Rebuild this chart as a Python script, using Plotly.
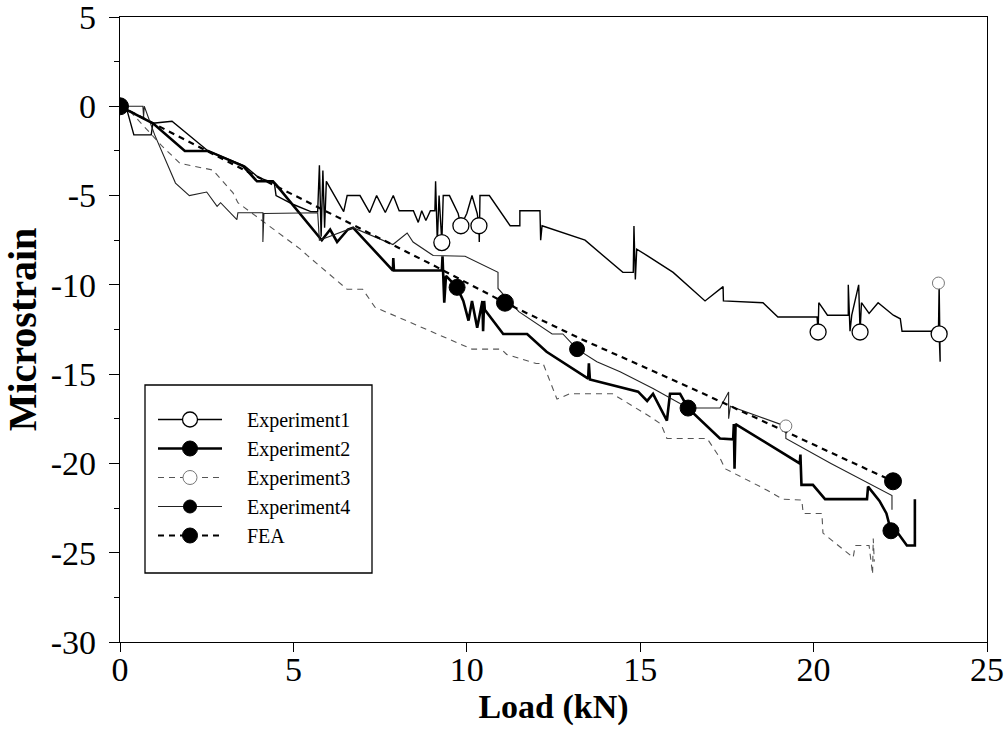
import plotly.graph_objects as go

# ---------------- data ----------------
exp1_x = [0, 0.2, 0.4, 0.9, 0.95, 1.5, 2.54, 3.6, 4.0, 4.45, 4.5, 5.0, 5.5, 5.7, 5.75, 5.8, 5.85, 5.9, 5.95,
          6.45, 6.55, 6.92, 7.2, 7.4, 7.65, 7.88, 8.05, 8.46, 8.6, 8.7, 8.82, 8.95, 9.08, 9.1, 9.15, 9.2, 9.28,
          9.32, 9.5, 9.75, 9.83, 10.0, 10.15, 10.3, 10.35, 10.36, 10.38, 10.65, 11.25, 11.53, 11.53, 12.11,
          12.13, 12.17, 13.41, 14.5, 14.8, 14.82, 14.86, 14.9, 15.2, 15.95, 16.87, 17.39, 17.4, 18.54, 18.97,
          20.1, 20.13, 20.15, 20.4, 21.0, 21.0, 21.05, 21.1, 21.3, 21.34, 21.38, 21.6, 21.86, 22.3, 22.5,
          22.55, 23.6, 23.62, 23.65, 23.62]
exp1_y = [0, -0.2, -1.6, -1.6, -0.95, -0.84, -2.5, -3.35, -4.0, -4.3, -5.0, -5.5, -5.9, -5.9, -3.3, -7.3, -3.6,
          -6.8, -4.2, -5.9, -5.0, -5.0, -5.95, -5.0, -5.95, -5.0, -5.85, -5.85, -6.5, -5.85, -6.4, -5.85, -5.85,
          -4.2, -7.6, -5.0, -7.63, -5.0, -5.0, -6.0, -6.69, -6.0, -5.0, -6.0, -6.69, -7.6, -5.0, -5.0, -6.69,
          -6.69, -5.85, -5.85, -7.5, -6.69, -7.5, -9.3, -9.3, -6.7, -9.7, -8.0, -8.36, -9.3, -10.9, -10.1,
          -10.9, -11.0, -11.8, -11.8, -12.64, -11.0, -11.7, -11.7, -10.0, -12.6, -11.7, -10.0, -12.64, -11.0,
          -11.6, -11.0, -11.7, -11.9, -12.6, -12.6, -10.0, -14.3, -12.75]
exp1_mx = [9.28, 9.83, 10.35, 20.13, 21.34, 23.62]
exp1_my = [-7.63, -6.69, -6.69, -12.64, -12.64, -12.75]

exp2_x = [0, 0.95, 1.87, 2.54, 3.55, 3.95, 4.41, 4.53, 5.82, 6.06, 6.26, 6.57, 6.72, 7.87, 7.88, 7.9, 9.28,
          9.3, 9.35, 9.4, 9.72, 9.9, 10.05, 10.15, 10.3, 10.45, 10.47, 10.5, 10.52, 11.05, 11.74, 12.3, 13.5,
          13.52, 13.55, 14.94, 15.2, 15.37, 15.77, 15.86, 16.15, 16.38, 17.3, 17.68, 17.7, 17.72, 17.75,
          19.6, 19.62, 19.65, 19.98, 20.33, 21.54, 21.57, 21.9, 22.1, 22.23, 22.43, 22.69, 22.92, 22.92]
exp2_y = [0, -0.95, -2.5, -2.5, -3.35, -4.2, -4.2, -4.46, -7.5, -6.9, -7.6, -6.9, -6.8, -9.2, -8.5, -9.2,
          -9.2, -8.4, -11.0, -9.5, -10.14, -10.9, -12.0, -10.9, -12.4, -10.9, -12.6, -10.9, -11.4, -12.75,
          -12.75, -13.75, -15.25, -14.4, -15.3, -15.98, -16.5, -16.1, -17.6, -16.1, -16.1, -16.9, -18.6,
          -18.65, -17.8, -20.3, -17.8, -20.0, -19.5, -21.2, -21.2, -22.0, -22.0, -21.3, -22.1, -22.8,
          -23.77, -23.9, -24.6, -24.6, -22.0]
exp2_mx = [9.72, 16.38, 22.23]
exp2_my = [-10.14, -16.9, -23.77]

exp3_x = [0, 0.3, 1.2, 1.73, 2.68, 3.26, 3.4, 4.67, 5.2, 5.4, 6.55, 7.0, 7.35, 10.15, 11.0, 11.15, 12.0,
          12.2, 12.6, 12.97, 14.2, 15.3, 15.6, 15.77, 16.93, 17.3, 17.45, 18.66, 19.1, 19.66, 19.7, 20.24,
          20.27, 21.14, 21.2, 21.6, 21.7, 21.72, 21.75]
exp3_y = [0, -0.3, -2.2, -3.2, -3.57, -4.85, -5.4, -7.24, -8.0, -8.35, -10.25, -10.25, -11.25, -13.6,
          -13.6, -13.9, -14.4, -14.4, -16.4, -16.1, -16.1, -17.4, -17.8, -18.6, -18.6, -19.7, -20.3, -21.5,
          -22.0, -22.05, -22.8, -22.8, -23.9, -25.27, -24.6, -24.6, -26.2, -24.2, -25.5]
exp3_mx = [19.2, 23.6]
exp3_my = [-17.9, -9.9]

exp4_x = [0, 0.66, 0.68, 0.7, 1.0, 1.6, 2.0, 2.5, 2.8, 2.9, 3.37, 3.4, 4.12, 4.12, 4.15, 5.7, 5.75, 6.72,
          7.87, 8.28, 8.45, 9.03, 9.95, 10.9, 10.9, 11.5, 12.46, 12.77, 13.18, 13.75, 14.42, 15.37, 16.38,
          17.3, 17.55, 17.55, 17.6, 19.03, 19.2, 19.2, 20.5, 21.5, 22.26, 22.26]
exp4_y = [0, 0, -0.6, 0, -1.6, -4.3, -5.0, -4.8, -5.6, -5.4, -6.35, -5.96, -5.96, -7.6, -6.0, -5.96, -7.5,
          -6.8, -7.74, -7.1, -7.6, -8.36, -8.4, -9.3, -10.2, -11.5, -12.75, -12.75, -13.6, -14.3, -14.87,
          -15.8, -16.9, -16.9, -16.0, -17.5, -16.8, -17.8, -17.8, -18.6, -20.0, -21.0, -21.8, -22.6]
exp4_mx = [13.18]
exp4_my = [-13.6]

fea_x = [0, 3.75, 9.03, 11.1, 13.26, 16.72, 22.29]
fea_y = [0, -3.74, -8.9, -11.0, -13.0, -16.0, -21.0]
fea_mx = [0, 11.1, 22.29]
fea_my = [0, -11.0, -21.0]

x_ticks = [0, 5, 10, 15, 20, 25]
y_ticks = [5, 0, -5, -10, -15, -20, -25, -30]

# ---------------- styles ----------------
series = [
    dict(name="Experiment1", x=exp1_x, y=exp1_y, mx=exp1_mx, my=exp1_my,
         line=dict(color="black", width=1.4),
         marker=dict(symbol="circle", color="white", size=16, line=dict(color="black", width=1.3)),
         lsize=15),
    dict(name="Experiment2", x=exp2_x, y=exp2_y, mx=exp2_mx, my=exp2_my,
         line=dict(color="black", width=2.6),
         marker=dict(symbol="circle", color="black", size=16, line=dict(color="black", width=1)),
         lsize=15),
    dict(name="Experiment3", x=exp3_x, y=exp3_y, mx=exp3_mx, my=exp3_my,
         line=dict(color="#555555", width=1.1, dash="6px,5px"),
         marker=dict(symbol="circle", color="white", size=12, line=dict(color="#777777", width=1)),
         lsize=14),
    dict(name="Experiment4", x=exp4_x, y=exp4_y, mx=exp4_mx, my=exp4_my,
         line=dict(color="#222222", width=1.1),
         marker=dict(symbol="circle", color="black", size=15, line=dict(color="black", width=1)),
         lsize=13),
    dict(name="FEA", x=fea_x, y=fea_y, mx=fea_mx, my=fea_my,
         line=dict(color="black", width=2.2, dash="6px,5px"),
         marker=dict(symbol="circle", color="black", size=17, line=dict(color="black", width=1)),
         lsize=15),
]

fig = go.Figure()
for s in series:
    fig.add_trace(go.Scatter(x=s["x"], y=s["y"], mode="lines", line=s["line"],
                             showlegend=False, hoverinfo="skip"))
for s in series:
    fig.add_trace(go.Scatter(x=s["mx"], y=s["my"], mode="markers", marker=s["marker"],
                             showlegend=False))
# legend entries
for s in series:
    lm = dict(s["marker"])
    lm["size"] = s["lsize"]
    fig.add_trace(go.Scatter(x=[None], y=[None], mode="lines+markers",
                             name="\u00a0\u00a0\u00a0\u00a0" + s["name"],
                             line=s["line"], marker=lm))

W, H = 1008, 750
L, R, T, B = 120, 21, 17, 108
pw, ph = W - L - R, H - T - B

def px(xp):
    return (xp - L) / pw

def py(yp):
    return (H - B - yp) / ph

font_fam = "Liberation Serif, Times New Roman, serif"

fig.update_layout(
    width=W, height=H,
    margin=dict(l=L, r=R, t=T, b=B, autoexpand=False),
    paper_bgcolor="white", plot_bgcolor="white",
    font=dict(family=font_fam, color="black"),
    xaxis=dict(range=[0, 25], tickvals=x_ticks, ticktext=[str(v) for v in x_ticks],
               automargin=False,
               showgrid=False, zeroline=False, showline=True, linecolor="black", linewidth=1.4,
               mirror=True, ticks="outside", ticklen=9, tickcolor="black",
               ticklabelstandoff=-12, ticklabeloverflow="allow",
               tickfont=dict(size=34, family=font_fam),
               title=dict(text="<b>Load (kN)</b>", font=dict(size=34, family=font_fam), standoff=6)),
    yaxis=dict(range=[-30, 5], tickvals=y_ticks, ticktext=[str(v) for v in y_ticks],
               automargin=False,
               showgrid=False, zeroline=False, showline=True, linecolor="black", linewidth=1.4,
               mirror=True, ticks="outside", ticklen=10, tickcolor="black",
               ticklabelstandoff=6, ticklabeloverflow="allow",
               minor=dict(dtick=2.5, tick0=0, ticks="outside", ticklen=5, tickcolor="black"),
               tickfont=dict(size=34, family=font_fam),
               title=dict(text="<b>Microstrain</b>", font=dict(size=40, family=font_fam), standoff=6)),
    legend=dict(x=px(153), y=py(400), xanchor="left", yanchor="top",
                bgcolor="rgba(0,0,0,0)", borderwidth=0,
                font=dict(size=20, family=font_fam), itemwidth=64, tracegroupgap=0),
    shapes=[dict(type="rect", xref="paper", yref="paper",
                 x0=px(145), x1=px(372), y0=py(573), y1=py(385),
                 line=dict(color="black", width=1.3), fillcolor="white", layer="below")],
)

fig.write_html("out.html")
